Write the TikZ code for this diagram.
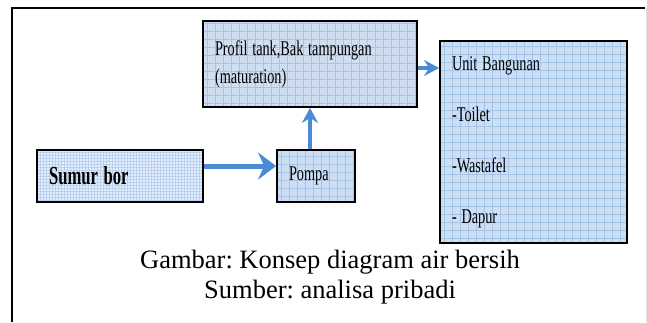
\documentclass[tikz,border=0pt]{standalone}
\usepackage{fontspec}
\usepackage{graphicx}
\setmainfont{Liberation Serif}
\usetikzlibrary{arrows.meta}
\frenchspacing

% narrow text as in the scanned figure
\newcommand\nar[1]{\scalebox{0.68}[1]{#1}}
\newcommand\narb[1]{\scalebox{0.64}[1]{\bfseries #1}}

\definecolor{tankfill}{RGB}{208,222,241}
\definecolor{tankgrid}{RGB}{162,195,234}
\definecolor{wellfill}{RGB}{228,237,250}
\definecolor{wellgrid}{RGB}{186,210,240}
\definecolor{flowblue}{RGB}{76,138,214}

\begin{document}
\begin{tikzpicture}
[
x=0.5pt, y=-0.5pt,
tank/.style={draw, line width=0.9pt, fill=tankfill, align=left, inner xsep=6pt, inner ysep=0pt,
  font=\fontsize{10.5}{14}\selectfont,
  path picture={\draw[tankgrid, line width=0.3pt] (path picture bounding box.south west) grid[step=4pt] (path picture bounding box.north east);}},
well/.style={tank, fill=wellfill, font=\fontsize{13}{15}\selectfont,
  path picture={\draw[wellgrid, line width=0.2pt] (path picture bounding box.south west) grid[step=1.5pt] (path picture bounding box.north east);}},
flow/.style={draw=flowblue, line width=2pt, -{Stealth[length=7.5pt, width=8pt, inset=2.5pt]}},
bigflow/.style={flow, line width=2.5pt, -{Stealth[length=9pt, width=13.5pt, inset=3pt]}},
caption/.style={anchor=base, font=\fontsize{13.25}{15}\selectfont},
]
\useasboundingbox (0,0) rectangle (647,322);
% frame
\draw[line width=1pt] (12,322) -- (12,8) -- (645,8);
\draw[black!12, line width=0.5pt] (646,8) -- (646,322);

% boxes
\node[tank, text width=95pt, minimum height=43pt] (profil) at (310,64) {\nar{Profil tank,Bak tampungan}\\\nar{(maturation)}};
\node[well, text width=71pt, minimum height=26pt] (sumur) at (120,176) {\narb{Sumur bor}};
\node[tank, text width=27pt, minimum height=26pt] (pompa) at (316,176) {\nar{Pompa}};
\node[tank, text width=81.5pt, minimum height=101pt] (unit) at (533.5,142) {\nar{Unit Bangunan}\\[11.5pt]\nar{-Toilet}\\[11.5pt]\nar{-Wastafel}\\[11.5pt]\nar{- Dapur}};

% flow
\draw[bigflow] ([yshift=5pt]sumur.east) -- ([yshift=5pt]pompa.west);
\draw[flow] (pompa.north -| profil.south) -- (profil.south);
\draw[flow] ([yshift=-2pt]profil.east) -- ([yshift=-2pt]profil.east -| unit.west);

% caption
\node[caption] (cap1) at (330,268) {Gambar: Konsep diagram air bersih};
\node[caption] (cap2) at (330,298) {Sumber: analisa pribadi};
\end{tikzpicture}
\end{document}
